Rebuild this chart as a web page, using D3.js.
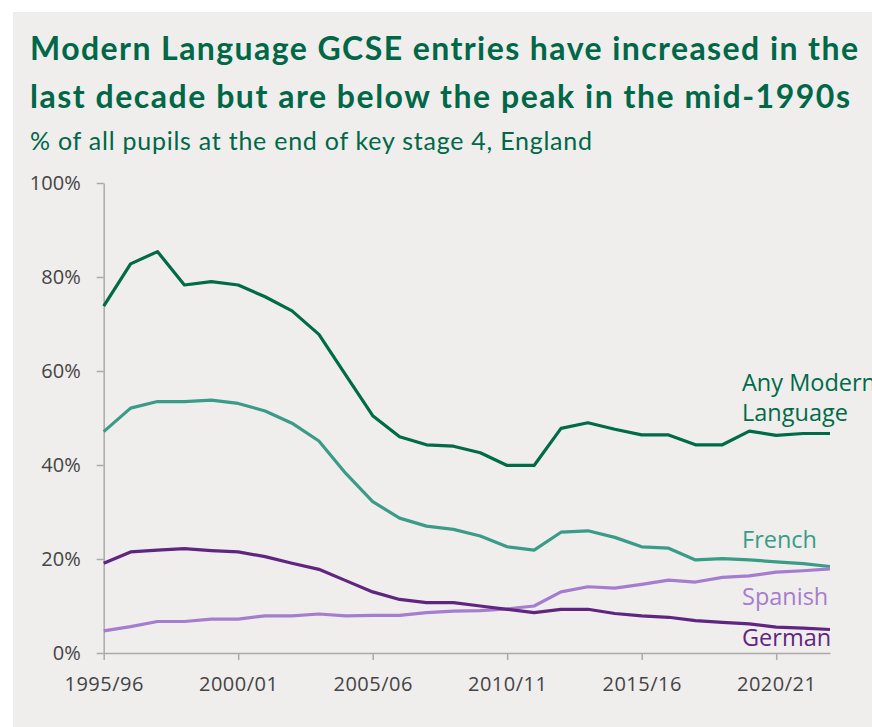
<!DOCTYPE html>
<html>
<head>
<meta charset="utf-8">
<script src="https://cdn.jsdelivr.net/npm/d3@7"></script>
<style>
  body { margin: 0; background: #fff; }
  svg { display: block; }
</style>
</head>
<body>
<div id="vis"></div>
<script>
// chart data
const years = ["1995/96","1996/97","1997/98","1998/99","1999/00","2000/01","2001/02","2002/03",
  "2003/04","2004/05","2005/06","2006/07","2007/08","2008/09","2009/10","2010/11","2011/12",
  "2012/13","2013/14","2014/15","2015/16","2016/17","2017/18","2018/19","2019/20","2020/21",
  "2021/22","2022/23"];
const tickYears = ["1995/96","2000/01","2005/06","2010/11","2015/16","2020/21"];
const yTicks = [0, 20, 40, 60, 80, 100];

const anyLanguage = [73.8,82.8,85.4,78.3,79.0,78.3,75.8,72.8,67.8,59.1,50.5,46.0,44.3,44.0,42.6,39.9,
  39.9,47.8,49.0,47.6,46.4,46.4,44.3,44.3,47.2,46.3,46.7,46.7];
const french = [47.1,52.1,53.5,53.5,53.8,53.1,51.5,48.9,45.1,38.2,32.2,28.7,27.0,26.3,24.9,22.6,
  21.9,25.7,26.0,24.6,22.6,22.3,19.8,20.1,19.8,19.4,19.0,18.4];
const german = [19.1,21.5,21.9,22.2,21.8,21.5,20.5,19.1,17.8,15.4,13.0,11.4,10.7,10.7,10.0,9.3,
  8.6,9.3,9.3,8.4,7.9,7.6,6.9,6.5,6.2,5.5,5.3,5.0];
const spanish = [4.7,5.6,6.7,6.7,7.2,7.2,7.9,7.9,8.3,7.9,8.0,8.0,8.6,8.9,9.0,9.4,
  10.0,13.0,14.1,13.8,14.6,15.5,15.1,16.1,16.4,17.2,17.5,17.9];

const series = [
  {name: ["Any Modern", "Language"], values: anyLanguage, color: "#006a49", labelY: [383, 413]},
  {name: ["French"], values: french, color: "#3a9c87", labelY: [540]},
  {name: ["Spanish"], values: spanish, color: "#a67ccf", labelY: [597]},
  {name: ["German"], values: german, color: "#5f2581", labelY: [638]}
];

const W = 872, H = 727;
const svg = d3.select("#vis").append("svg")
  .attr("width", W).attr("height", H)
  .attr("viewBox", [0, 0, W, H].join(" "));

// panel background
svg.append("rect")
  .attr("x", 13).attr("y", 12)
  .attr("width", W - 13).attr("height", H - 12)
  .attr("fill", "#efeeed");

// titles
const title = svg.append("text")
  .attr("font-family", "Lato, 'Noto Sans', sans-serif")
  .attr("font-weight", "bold")
  .attr("font-size", 32)
  .attr("fill", "#006747");
title.append("tspan").attr("x", 30).attr("y", 60)
  .attr("textLength", 828).attr("lengthAdjust", "spacing")
  .text("Modern Language GCSE entries have increased in the");
title.append("tspan").attr("x", 30).attr("y", 108)
  .attr("textLength", 820).attr("lengthAdjust", "spacing")
  .text("last decade but are below the peak in the mid-1990s");

svg.append("text")
  .attr("x", 30).attr("y", 150)
  .attr("font-family", "Lato, 'Noto Sans', sans-serif")
  .attr("font-size", 25)
  .attr("fill", "#006747")
  .attr("textLength", 562).attr("lengthAdjust", "spacing")
  .text("% of all pupils at the end of key stage 4, England");

// scales
const x = d3.scalePoint().domain(years).range([103.7, 830]);
const y = d3.scaleLinear().domain([0, 100]).range([653, 183]);

const axisFont = "'Open Sans', 'Noto Sans', sans-serif";

// y axis
const gy = svg.append("g")
  .attr("transform", "translate(103.7,0)")
  .call(d3.axisLeft(y).tickValues(yTicks).tickFormat(d => d + "%").tickSize(7).tickSizeOuter(0).tickPadding(16));

// x axis
const gx = svg.append("g")
  .attr("transform", "translate(0,653)")
  .call(d3.axisBottom(x).tickValues(tickYears).tickSize(7).tickSizeOuter(0).tickPadding(17));

[gx, gy].forEach(g => {
  g.select(".domain").attr("stroke", "#aaaaaa").attr("stroke-width", 1.5);
  g.selectAll(".tick line").attr("stroke", "#aaaaaa").attr("stroke-width", 1.5);
  g.selectAll(".tick text")
    .attr("font-family", axisFont)
    .attr("font-size", 20)
    .attr("fill", "#444");
});
gx.selectAll(".tick text").attr("letter-spacing", 0.5);

// lines
const line = d3.line()
  .x((d, i) => x(years[i]))
  .y(d => y(d));

svg.append("g")
  .selectAll("path")
  .data(series)
  .join("path")
  .attr("d", d => line(d.values))
  .attr("fill", "none")
  .attr("stroke", d => d.color)
  .attr("stroke-width", 3.2)
  .attr("stroke-linejoin", "round");

// direct labels (the first one runs off the right edge, as in the reference)
series.forEach(s => {
  s.name.forEach((t, j) => {
    svg.append("text")
      .attr("x", 742)
      .attr("y", s.labelY[j])
      .attr("dy", "0.35em")
      .attr("font-family", axisFont)
      .attr("font-size", 23.5)
      .attr("fill", s.color)
      .text(t);
  });
});
</script>
</body>
</html>
